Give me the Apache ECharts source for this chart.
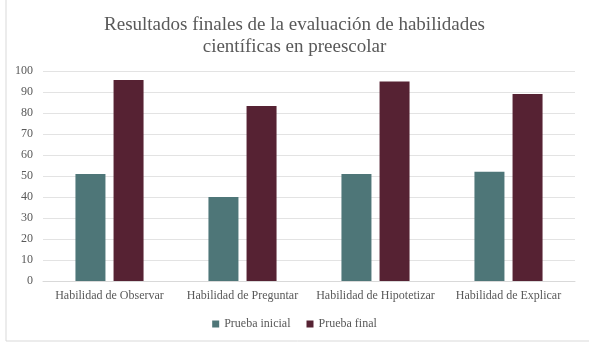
<!DOCTYPE html>
<html>
<head>
<meta charset="utf-8">
<script src="https://cdn.jsdelivr.net/npm/echarts@6/dist/echarts.min.js"></script>
<style>
    html, body { margin: 0; padding: 0; background: #fff; }
    #chart { width: 589px; height: 346px; }
</style>
</head>
<body>
<div id="chart"></div>
<script>
var categorias = ['Habilidad de Observar', 'Habilidad de Preguntar', 'Habilidad de Hipotetizar', 'Habilidad de Explicar'];
var pruebaInicial = [51, 40, 51, 52];
var pruebaFinal = [95.7, 83.3, 95, 89];
var nombresSeries = ['Prueba inicial', 'Prueba final'];

var fuente = '"Liberation Serif", "DejaVu Serif", serif';
var chart = echarts.init(document.getElementById('chart'));

var option = {
    animation: false,
    color: ['#4E7678', '#562233'],
    textStyle: {
        fontFamily: fuente
    },
    title: {
        text: 'Resultados finales de la evaluación de habilidades\ncientíficas en preescolar',
        left: 'center',
        top: 9,
        textStyle: {
            fontFamily: fuente,
            fontSize: 19,
            fontWeight: 'normal',
            color: '#595959',
            lineHeight: 22
        }
    },
    // borde del área del gráfico
    graphic: [{
        type: 'polyline',
        shape: { points: [[6, 0], [6, 341], [589, 341]] },
        style: { stroke: '#d9d9d9', lineWidth: 1, fill: null },
        silent: true
    }],
    legend: {
        data: nombresSeries,
        left: 'center',
        top: 313,
        itemWidth: 7,
        itemHeight: 7,
        itemGap: 16,
        icon: 'rect',
        textStyle: {
            fontFamily: fuente,
            fontSize: 12,
            color: '#595959'
        }
    },
    grid: {
        left: 43,
        right: 14,
        top: 71,
        bottom: 65,
        containLabel: false
    },
    xAxis: {
        type: 'category',
        data: categorias,
        axisTick: { show: false },
        axisLine: { lineStyle: { color: '#d9d9d9' } },
        axisLabel: {
            interval: 0,
            margin: 9,
            fontFamily: fuente,
            fontSize: 12,
            color: '#595959'
        }
    },
    yAxis: {
        type: 'value',
        min: 0,
        max: 100,
        interval: 10,
        axisLine: { show: false },
        axisTick: { show: false },
        axisLabel: {
            margin: 10,
            fontFamily: fuente,
            fontSize: 12,
            color: '#595959'
        },
        splitLine: { lineStyle: { color: '#e3e3e3' } }
    },
    series: [{
        name: nombresSeries[0],
        type: 'bar',
        data: pruebaInicial,
        barWidth: 30,
        barGap: '27%'
    }, {
        name: nombresSeries[1],
        type: 'bar',
        data: pruebaFinal,
        barWidth: 30,
        barGap: '27%'
    }]
};
chart.setOption(option);
</script>
</body>
</html>
